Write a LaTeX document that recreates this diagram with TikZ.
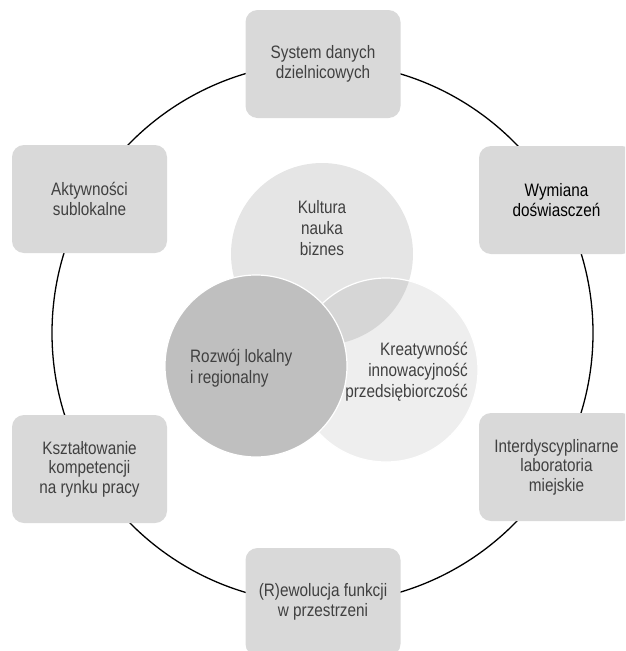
\documentclass[tikz,border=0pt]{standalone}
\usepackage{fontspec}
\setmainfont{Liberation Sans}[FakeStretch=0.85]
\definecolor{boxgray}{RGB}{217,217,217}
\definecolor{topgray}{RGB}{229,229,229}
\definecolor{rightgray}{RGB}{238,238,238}
\definecolor{overgray}{RGB}{214,214,214}
\definecolor{darkgray2}{RGB}{191,191,191}
\definecolor{txt}{RGB}{64,64,64}
\begin{document}
\begin{tikzpicture}[x=1pt,y=-1pt,
  box/.style={rectangle, rounded corners=12pt, fill=boxgray, minimum width=155pt,
    minimum height=108pt, align=center, inner sep=2pt,
    font=\fontsize{18}{19.5}\selectfont, text=txt},
  inner/.style={inner sep=0pt, font=\fontsize{18}{21}\selectfont, text=txt},
  ring/.style={circle, minimum size=182pt, inner sep=0pt}
]
\useasboundingbox (0,0) rectangle (625,651);
\clip (0,0) rectangle (625,651);
% outer ring
\draw[line width=1.3pt] (322.5,333) circle[radius=270.5];
% boxes
\node[box] (sys) at (323,64) {System danych\\dzielnicowych};
\node[box, text=black] (wym) at (556.5,200) {Wymiana\\doświasczeń};
\node[box] (lab) at (556.5,467) {Interdyscyplinarne\\laboratoria\\miejskie};
\node[box] (rew) at (323,602) {(R)ewolucja funkcji\\w przestrzeni};
\node[box] (ksz) at (89.5,469) {Kształtowanie\\kompetencji\\na rynku pracy};
\node[box] (akt) at (89.5,199) {Aktywności\\sublokalne};
% inner circles
\node[ring, fill=topgray] (ckult) at (322,254) {};
\node[ring, fill=rightgray, minimum size=184pt] (ckrea) at (386,370) {};
\begin{scope}
  \clip (322,254) circle[radius=91];
  \fill[overgray] (386,370) circle[radius=92];
\end{scope}
\draw[white, line width=1.2pt] (386,370) circle[radius=92];
\node[ring, fill=darkgray2, draw=white, line width=1.2pt] (crozw) at (256,366) {};
% inner texts
\node[inner, align=center] (tkult) at (322,228) {Kultura\\nauka\\biznes};
\node[inner, align=left, anchor=west] (trozw) at (190,368) {Rozwój lokalny\\i regionalny};
\node[inner, align=right, anchor=east] (tkrea) at (468,372) {Kreatywność\\innowacyjność\\przedsiębiorczość};
\end{tikzpicture}
\end{document}
